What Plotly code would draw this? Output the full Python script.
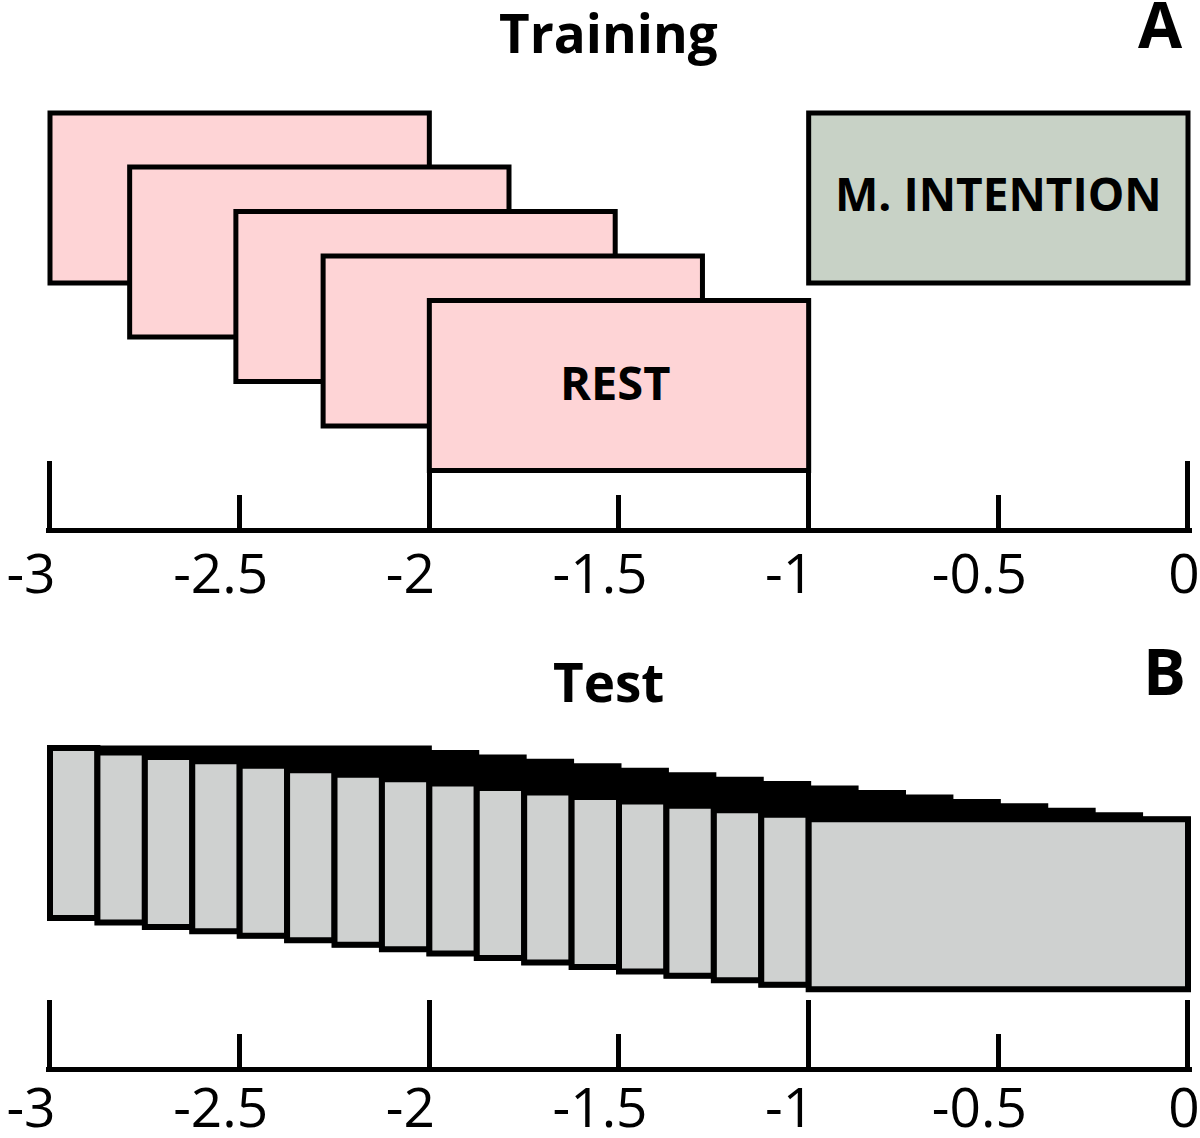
import plotly.graph_objects as go

# ---------------- data ----------------
tick_vals = [-3, -2.5, -2, -1.5, -1, -0.5, 0]
tick_text = ["-3", "-2.5", "-2", "-1.5", "-1", "-0.5", "0"]
major_tick_vals = [-3, -2, -1, 0]

# Training: REST windows (start time, s) and motor-intention window
rest_starts = [-3.0, -2.79, -2.51, -2.28, -2.0]
window_len = 1.0
intention_start = -1.0
intention_end = 0.0

# Test: sliding windows (start time, s)
test_starts = [-3.0, -2.875, -2.75, -2.625, -2.5, -2.375, -2.25, -2.125, -2.0,
               -1.875, -1.75, -1.625, -1.5, -1.375, -1.25, -1.125, -1.0]

titles = ["Training", "Test"]
panel_letters = ["A", "B"]
labels = ["REST", "M. INTENTION"]

# ---------------- layout constants ----------------
W, H = 1200, 1138
FONT = "Open Sans"
PINK = "#FED4D6"
GREEN = "#C8D2C6"
GRAY = "#CFD1D0"
BORDER = 5

XR = [-3.01, 0.01]
PX_PER_UNIT = (1188 - 50) / 3.0
x_left_px = 50 + (XR[0] + 3) * PX_PER_UNIT
x_right_px = 1188 + XR[1] * PX_PER_UNIT
x_domain = [x_left_px / W, x_right_px / W]

# panel vertical extents (page px); y units = px above panel baseline
A_BASE_PX, A_TOP_PX = 527.5, 0
B_BASE_PX, B_TOP_PX = 1066.5, 640
rest_row_top = [414.5, 360.5, 316, 271.5, 227]   # stacking rows (layout)
WIN_H = 170
intention_top = 414.5
test_top0 = 321 - 2.5
test_step = 4.45

def dom(base_px, top_px):
    return [(H - base_px) / H, (H - top_px) / H]

def px_x(px):
    return px / W

def px_y(py):
    return 1 - py / H

fig = go.Figure()
# invisible traces so every axis pair is built
for xa, ya in [("x", "y"), ("x3", "y"), ("x2", "y2"), ("x4", "y2")]:
    fig.add_trace(go.Scatter(x=[None], y=[None], xaxis=xa, yaxis=ya,
                             showlegend=False, hoverinfo="skip"))

shapes = []
# ---- panel A ----
for s, top in zip(rest_starts, rest_row_top):
    shapes.append(dict(type="rect", xref="x", yref="y", x0=s, x1=s + window_len,
                       y0=top - WIN_H, y1=top, fillcolor=PINK,
                       line=dict(color="black", width=BORDER)))
shapes.append(dict(type="rect", xref="x", yref="y", x0=intention_start, x1=intention_end,
                   y0=intention_top - WIN_H, y1=intention_top, fillcolor=GREEN,
                   line=dict(color="black", width=BORDER)))

# ---- panel B ----
n = len(test_starts)
tops = [test_top0 - test_step * i for i in range(n)]
for s, top in zip(test_starts, tops):
    shapes.append(dict(type="rect", xref="x2", yref="y2", x0=s, x1=s + window_len,
                       y0=top - WIN_H, y1=top, fillcolor="black",
                       line=dict(color="black", width=BORDER)))
for i, (s, top) in enumerate(zip(test_starts, tops)):
    x1 = test_starts[i + 1] if i < n - 1 else s + window_len
    shapes.append(dict(type="rect", xref="x2", yref="y2", x0=s, x1=x1,
                       y0=top - WIN_H, y1=top, fillcolor=GRAY,
                       line=dict(color="black", width=BORDER + 1)))

annotations = []
# box labels
rest_mid = rest_starts[-1] + window_len / 2
annotations.append(dict(x=rest_mid, y=rest_row_top[-1] - WIN_H / 2, xref="x", yref="y",
                        text="<b>%s</b>" % labels[0], showarrow=False, yshift=4, xshift=-4,
                        font=dict(family=FONT, size=47, color="black")))
annotations.append(dict(x=(intention_start + intention_end) / 2, y=intention_top - WIN_H / 2,
                        xref="x", yref="y", text="<b>%s</b>" % labels[1], showarrow=False,
                        yshift=5, font=dict(family=FONT, size=46, color="black")))
# titles and panel letters
for t, xc, yc in zip(titles, [609, 608], [33, 681]):
    annotations.append(dict(x=px_x(xc), y=px_y(yc), xref="paper", yref="paper",
                            text="<b>%s</b>" % t, showarrow=False, xanchor="center",
                            yanchor="middle", font=dict(family=FONT, size=53, color="black")))
for t, xc, yc in zip(panel_letters, [1160, 1164], [24, 670]):
    annotations.append(dict(x=px_x(xc), y=px_y(yc), xref="paper", yref="paper",
                            text="<b>%s</b>" % t, showarrow=False, xanchor="center",
                            yanchor="middle", font=dict(family=FONT, size=64, color="black")))

tickfont = dict(family=FONT, size=55, color="black")
neg_vals = [v for v in tick_vals if v < 0]
neg_text = [t for v, t in zip(tick_vals, tick_text) if v < 0]
zero_text = [tick_text[tick_vals.index(v)] if v == 0 else "" for v in major_tick_vals]

def main_x(anchor, standoff):
    return dict(domain=x_domain, range=XR, anchor=anchor, showline=True, linewidth=BORDER,
                linecolor="black", ticks="inside", ticklen=33, tickwidth=BORDER,
                tickcolor="black", tickmode="array", tickvals=neg_vals + [0],
                ticktext=neg_text + [""], tickfont=tickfont, showgrid=False,
                zeroline=False, ticklabelshift=-19, ticklabelstandoff=standoff,
                ticklabeloverflow="allow", automargin=False, fixedrange=True)

def over_x(base, anchor, standoff):
    return dict(overlaying=base, range=XR, anchor=anchor, side="bottom", showline=False,
                ticks="inside", ticklen=67, tickwidth=BORDER, tickcolor="black",
                tickmode="array", tickvals=major_tick_vals, ticktext=zero_text,
                tickfont=tickfont, showgrid=False, zeroline=False,
                ticklabelshift=-4, ticklabelstandoff=standoff,
                ticklabeloverflow="allow", automargin=False, fixedrange=True)

fig.update_layout(
    template="none",
    width=W, height=H,
    margin=dict(l=0, r=0, t=0, b=0, pad=0),
    paper_bgcolor="white", plot_bgcolor="white",
    showlegend=False,
    xaxis=main_x("y", -6),
    xaxis3=over_x("x", "y", 9),
    xaxis2=main_x("y2", -11),
    xaxis4=over_x("x2", "y2", 4),
    yaxis=dict(domain=dom(A_BASE_PX, A_TOP_PX), range=[0, A_BASE_PX - A_TOP_PX],
               visible=False, fixedrange=True, automargin=False),
    yaxis2=dict(domain=dom(B_BASE_PX, B_TOP_PX), range=[0, B_BASE_PX - B_TOP_PX],
                visible=False, fixedrange=True, automargin=False),
    shapes=shapes,
    annotations=annotations,
)

fig.write_html(
    "out.html",
    config={"displayModeBar": False},
    post_script="document.body.style.margin='0px';document.body.style.overflow='hidden';",
)
